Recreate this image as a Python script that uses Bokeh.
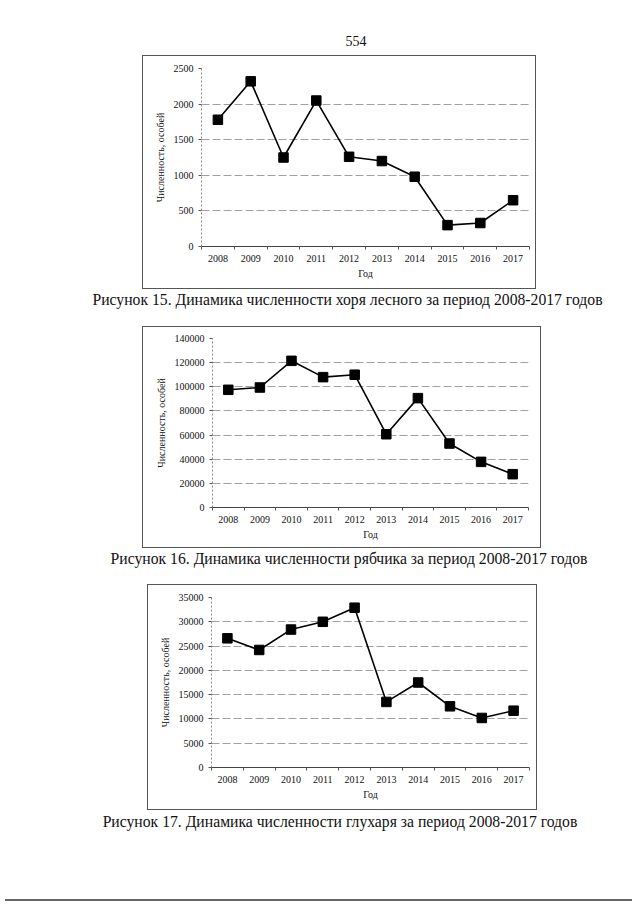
from bokeh.plotting import figure
from bokeh.models import FixedTicker, BasicTickFormatter, Div, Spacer, Range1d
from bokeh.layouts import column, row
from bokeh.embed import file_html
from bokeh.resources import INLINE

# ---------------- data ----------------
years = [2008, 2009, 2010, 2011, 2012, 2013, 2014, 2015, 2016, 2017]
polecat_counts = [1780, 2320, 1250, 2050, 1260, 1200, 980, 300, 330, 650]
hazel_grouse_counts = [97500, 99400, 121500, 108000, 110000, 60700, 90600, 53000, 37800, 27600]
capercaillie_counts = [26600, 24200, 28400, 30000, 32900, 13500, 17500, 12600, 10200, 11700]

polecat_ticks = [0, 500, 1000, 1500, 2000, 2500]
hazel_grouse_ticks = [0, 20000, 40000, 60000, 80000, 100000, 120000, 140000]
capercaillie_ticks = [0, 5000, 10000, 15000, 20000, 25000, 30000, 35000]

x_label = "Год"
y_label = "Численность, особей"
page_number = "554"
caption_15 = "Рисунок 15. Динамика численности хоря лесного за период 2008-2017 годов"
caption_16 = "Рисунок 16. Динамика численности рябчика за период 2008-2017 годов"
caption_17 = "Рисунок 17. Динамика численности глухаря за период 2008-2017 годов"

FONT = "Liberation Serif"


def make_chart(counts, ticks, w, h, bl, br, bt, bb):
    p = figure(width=w, height=h, output_backend="svg", toolbar_location=None,
               x_range=Range1d(years[0] - 0.5, years[-1] + 0.5),
               y_range=Range1d(ticks[0], ticks[-1]),
               min_border_left=bl, min_border_right=br,
               min_border_top=bt, min_border_bottom=bb,
               margin=0,
               styles={"border": "1px solid #555", "box-sizing": "border-box"})
    p.outline_line_color = None
    p.background_fill_color = "white"
    p.border_fill_color = "white"

    p.xgrid.grid_line_color = None
    p.ygrid.ticker = FixedTicker(ticks=ticks)
    p.ygrid.grid_line_color = "#a0a0a0"
    p.ygrid.grid_line_dash = "8 3"
    p.ygrid.grid_line_width = 1

    yax = p.yaxis[0]
    yax.ticker = FixedTicker(ticks=ticks)
    yax.formatter = BasicTickFormatter(use_scientific=False)
    yax.axis_line_color = "#888"
    yax.axis_line_dash = "2 2"
    yax.major_tick_out = 3
    yax.major_tick_in = 0
    yax.minor_tick_out = 0
    yax.minor_tick_in = 0
    yax.major_tick_line_color = "#555"
    yax.major_label_standoff = 5
    yax.axis_label = y_label
    yax.axis_label_standoff = 5

    xax = p.xaxis[0]
    minor = [y - 0.5 for y in years] + [years[-1] + 0.5]
    xax.ticker = FixedTicker(ticks=years, minor_ticks=minor)
    xax.formatter = BasicTickFormatter(use_scientific=False)
    xax.axis_line_color = "#444"
    xax.major_tick_out = 0
    xax.major_tick_in = 0
    xax.minor_tick_out = 3
    xax.minor_tick_in = 0
    xax.minor_tick_line_color = "#555"
    xax.major_label_standoff = 5
    xax.axis_label = x_label
    xax.axis_label_standoff = 3

    for ax in (xax, yax):
        ax.major_label_text_font = FONT
        ax.major_label_text_font_size = "10px"
        ax.major_label_text_color = "#111"
        ax.axis_label_text_font = FONT
        ax.axis_label_text_font_size = "10px"
        ax.axis_label_text_font_style = "normal"
        ax.axis_label_text_color = "#111"

    p.line(years, counts, line_color="black", line_width=1.6)
    p.scatter(years, counts, marker="square", size=9.5, fill_color="black", line_color="black")
    return p


def text_div(txt, height, center, top, size, extra=""):
    ml = center - 280
    html = (f'<div style="margin-left:{ml}px;width:560px;padding-top:{top}px;'
            f'text-align:center;white-space:nowrap;font-family:\'{FONT}\';'
            f'font-size:{size}px;line-height:{size + 2}px;color:#111">{txt}</div>' + extra)
    return Div(text=html, width=632, height=height, margin=0)


header = text_div(page_number, 55, 356, 34, 14)
fig1 = make_chart(polecat_counts, polecat_ticks, 394, 234, 58, 8, 12, 44)
cap1 = text_div(caption_15, 37, 347.5, 2, 15.7)
fig2 = make_chart(hazel_grouse_counts, hazel_grouse_ticks, 399, 222, 69, 14, 11, 42)
cap2 = text_div(caption_16, 36, 349, 2, 15.7)
fig3 = make_chart(capercaillie_counts, capercaillie_ticks, 390, 226, 63, 9, 12, 44)
cap3 = text_div(caption_17, 92, 340, 3, 15.7,
                extra='<div style="margin-top:68px;margin-left:5px;width:627px;height:2px;background:#666"></div>')

layout = column(
    header,
    row(Spacer(width=142, height=234, margin=0), fig1, margin=0),
    cap1,
    row(Spacer(width=142, height=222, margin=0), fig2, margin=0),
    cap2,
    row(Spacer(width=147, height=226, margin=0), fig3, margin=0),
    cap3,
    margin=0,
)

open("out.html", "w").write(file_html(layout, INLINE))
